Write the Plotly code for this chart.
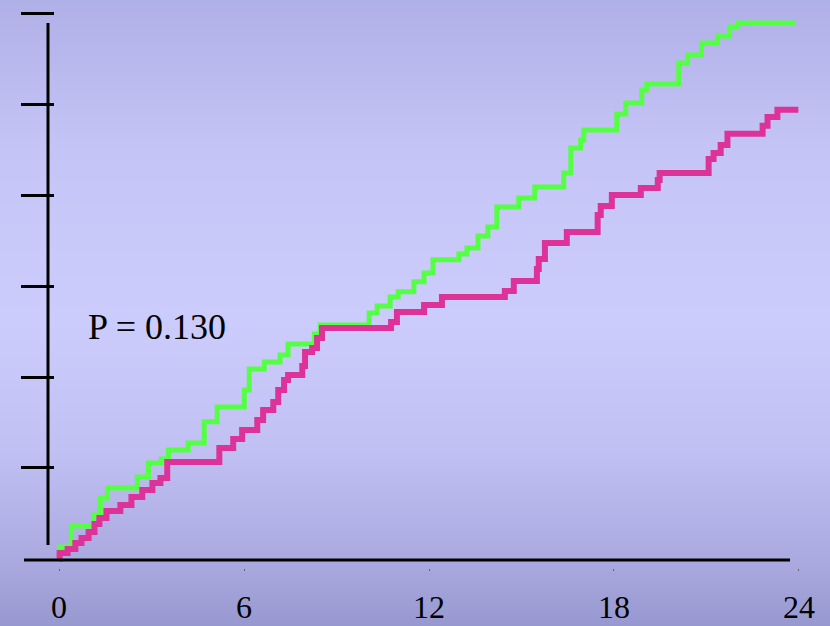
import plotly.graph_objects as go

# ---- data (months, cumulative %) ----
green_t = [0, 0.02, 0.40, 1.12, 1.34, 1.57, 2.54, 2.90, 3.32, 3.55, 4.19, 4.71, 5.13,
           6.01, 6.17, 6.66, 7.17, 7.43, 8.28, 8.47, 10.06, 10.32, 10.74, 11.00, 11.51,
           11.84, 12.13, 12.97, 13.23, 13.59, 13.91, 14.20, 14.91, 15.43, 16.37, 16.60,
           16.92, 17.02, 18.09, 18.38, 18.90, 19.06, 20.10, 20.39, 20.84, 21.36, 21.75,
           22.01, 23.88]
green_y = [0, 0.65, 1.81, 2.41, 3.35, 3.90, 4.50, 5.28, 5.50, 5.99, 6.38, 7.54, 8.36,
           9.30, 10.45, 10.84, 11.22, 11.83, 12.38, 12.88, 13.54, 13.92, 14.42, 14.70, 15.25,
           15.74, 16.46, 16.79, 17.12, 17.78, 18.27, 19.37, 19.87, 20.47, 21.25, 22.62,
           23.06, 23.61, 24.49, 25.10, 25.81, 26.14, 27.30, 27.74, 28.40, 28.79, 29.29,
           29.51, 29.51]

magenta_t = [0, 0.02, 0.28, 0.53, 0.73, 0.96, 1.15, 1.31, 1.54, 1.99, 2.35, 2.70, 3.03,
             3.29, 3.51, 5.20, 5.65, 5.94, 6.43, 6.62, 6.95, 7.11, 7.30, 7.43, 7.89, 7.98,
             8.21, 8.37, 8.53, 10.77, 10.96, 11.84, 12.42, 14.46, 14.75, 15.50, 15.56,
             15.76, 16.47, 17.47, 17.57, 17.93, 18.87, 19.42, 19.48, 21.07, 21.23, 21.46,
             21.68, 22.82, 22.98, 23.30, 23.98]
magenta_y = [0, 0.32, 0.54, 0.87, 1.15, 1.48, 1.92, 2.25, 2.63, 2.96, 3.40, 3.79, 4.17,
             4.45, 5.33, 6.10, 6.60, 7.09, 7.64, 8.19, 8.64, 9.30, 9.85, 10.12, 10.62, 11.39,
             11.61, 12.16, 12.71, 13.04, 13.59, 13.98, 14.42, 14.75, 15.30, 15.96, 16.51,
             17.39, 17.99, 18.93, 19.43, 20.03, 20.42, 20.86, 21.25, 22.02, 22.35, 22.79,
             23.40, 23.84, 24.33, 24.72, 24.72]

x_ticks = [0, 6, 12, 18, 24]
x_tick_labels = ["0", "6", "12", "18", "24"]
y_ticks = [5, 10, 15, 20, 25, 30]
p_text = "P = 0.130"

W, H = 830, 626
PLOT_H = 568

fig = go.Figure()
fig.add_trace(go.Scatter(x=green_t, y=green_y, mode="lines",
                         line=dict(color="#55ff44", width=5, shape="hv"),
                         showlegend=False, hoverinfo="skip"))
fig.add_trace(go.Scatter(x=magenta_t, y=magenta_y, mode="lines",
                         line=dict(color="#dd3399", width=6, shape="hv"),
                         showlegend=False, hoverinfo="skip"))

# background vertical gradient as thin bands
stops = [(0, (176, 176, 232)), (150, (196, 196, 246)), (320, (204, 204, 252)),
         (450, (192, 192, 243)), (560, (170, 170, 225)), (626, (152, 152, 208))]

def col_at(py):
    for (p0, c0), (p1, c1) in zip(stops[:-1], stops[1:]):
        if p0 <= py <= p1:
            f = (py - p0) / (p1 - p0)
            return tuple(round(a + (b - a) * f) for a, b in zip(c0, c1))
    return stops[-1][1]

shapes = []
step = 2
for py in range(0, H, step):
    c = col_at(py + step / 2)
    shapes.append(dict(type="rect", xref="paper", yref="paper",
                       x0=-0.01, x1=1.01,
                       y0=1 - (py + step + 0.5) / PLOT_H, y1=1 - py / PLOT_H,
                       fillcolor="rgb(%d,%d,%d)" % c, line=dict(width=0), layer="below"))

# axis lines
shapes.append(dict(type="line", xref="paper", yref="paper",
                   x0=24 / W, x1=790 / W, y0=1 - 560 / PLOT_H, y1=1 - 560 / PLOT_H,
                   line=dict(color="black", width=3)))
shapes.append(dict(type="line", xref="paper", yref="paper",
                   x0=48 / W, x1=48 / W, y0=1 - 23 / PLOT_H, y1=1 - 545 / PLOT_H,
                   line=dict(color="black", width=3)))

fig.update_layout(
    width=W, height=H,
    margin=dict(l=0, r=0, t=0, b=H - PLOT_H, pad=0, autoexpand=False),
    paper_bgcolor="rgb(160,160,214)",
    plot_bgcolor="rgba(0,0,0,0)",
    shapes=shapes,
    xaxis=dict(range=[-59 / 30.833, 771 / 30.833], tickvals=x_ticks, ticktext=x_tick_labels,
               ticks="outside", ticklen=2, tickwidth=1, tickcolor="#666",
               showgrid=False, zeroline=False, showline=False, automargin=False,
               tickfont=dict(family="Liberation Serif", size=32, color="black"),
               ticklabelstandoff=9),
    yaxis=dict(range=[-0.507, 30.77], tickvals=y_ticks, showticklabels=False,
               ticks="outside", ticklen=33, tickwidth=3, tickcolor="black",
               showgrid=False, zeroline=False, showline=False, automargin=False,
               anchor="free", position=54 / W),
    annotations=[dict(text=p_text, xref="paper", yref="paper",
                      x=156.5 / W, y=1 - 327 / PLOT_H, xanchor="center", yanchor="middle",
                      showarrow=False,
                      font=dict(family="Liberation Serif", size=36, color="black"))],
)

fig.write_html("out.html", config={"displayModeBar": False})

# remove the browser's default page margin so the figure sits at the top-left corner
with open("out.html", "r", encoding="utf-8") as f:
    html = f.read()
html = html.replace("<head>", "<head><style>html,body{margin:0;padding:0;overflow:hidden;}</style>", 1)
with open("out.html", "w", encoding="utf-8") as f:
    f.write(html)
